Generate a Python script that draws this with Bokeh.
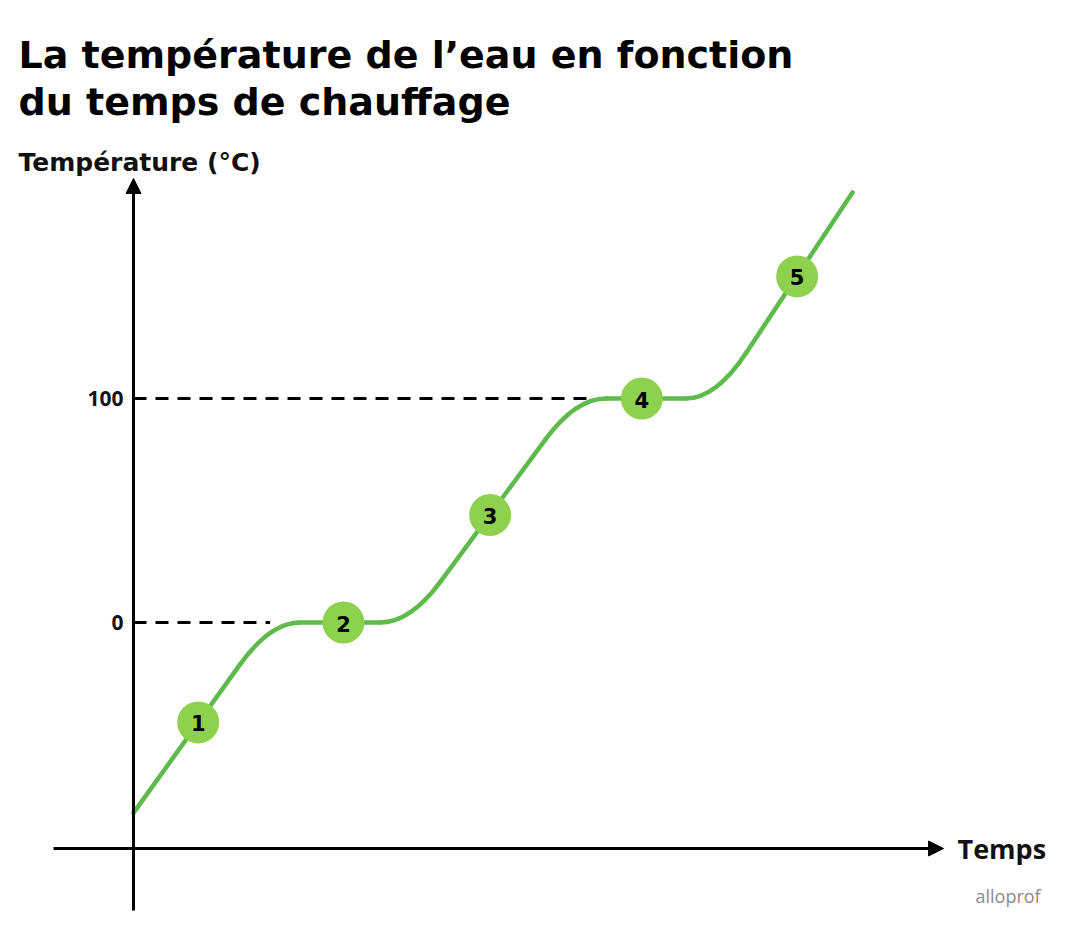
import numpy as np
from bokeh.plotting import figure
from bokeh.models import Range1d, Label, Arrow, NormalHead
from bokeh.core.properties import value
from bokeh.embed import file_html
from bokeh.resources import INLINE

# ---------------- data ----------------
title_lines = ["La température de l’eau en fonction", "du temps de chauffage"]
y_label = "Température (°C)"
x_label = "Temps"
credit = "alloprof"

# heating curve vertices: time (arbitrary units), temperature (°C)
curve_t = [0, 19, 38.5, 61.5, 81, 100]
curve_T = [-85, 0, 0, 100, 100, 192]

# numbered phases
phase_ids = ["1", "2", "3", "4", "5"]
phase_t = [9, 29.2, 49.6, 70.7, 92.3]
phase_T = [-44.6, 0, 48, 100, 154.5]

# reference temperatures
ref_ticks = [0, 100]
ref_labels = ["0", "100"]
ref_dash_end = [19, 63]

# ---------------- layout ----------------
W, H = 1066, 926
px_per_t, t0_px = 7.19, 133
px_per_T, T0_px = 2.24, 622
x0 = -t0_px / px_per_t
y1 = T0_px / px_per_T


def px2t(px):
    return (px - t0_px) / px_per_t


def py2T(py):
    return (T0_px - py) / px_per_T


GREEN_LINE = "#5EBB4B"
GREEN_FILL = "#8DD14F"
FONT = "Open Sans"

p = figure(width=W, height=H,
           x_range=Range1d(x0, x0 + W / px_per_t),
           y_range=Range1d(y1 - H / px_per_T, y1),
           x_axis_type=None, y_axis_type=None,
           min_border=0, toolbar_location=None, output_backend="svg")
p.outline_line_color = None
p.background_fill_color = "white"
p.border_fill_color = "white"

# axes (arrows)
x_axis_T = py2T(848)
p.add_layout(Arrow(end=NormalHead(size=15, fill_color="black", line_color="black", line_width=1),
                   x_start=0, y_start=py2T(910), x_end=0, y_end=py2T(178),
                   line_color="black", line_width=3))
p.add_layout(Arrow(end=NormalHead(size=15, fill_color="black", line_color="black", line_width=1),
                   x_start=px2t(53), y_start=x_axis_T, x_end=px2t(943), y_end=x_axis_T,
                   line_color="black", line_width=3))

# dashed reference lines
p.segment(x0=[0] * len(ref_ticks), y0=ref_ticks, x1=ref_dash_end, y1=ref_ticks,
          line_color="black", line_width=3, line_dash="13 9")

# tick labels
p.text(x=[0] * len(ref_ticks), y=ref_ticks, text=ref_labels, x_offset=-10,
       text_align="right", text_baseline="middle", text_font=value(FONT),
       text_font_size="21px", text_font_style="bold", text_color="#111111")

# heating curve with rounded corners
vt = np.array(curve_t, dtype=float)
vT = np.array(curve_T, dtype=float)
slopes = np.diff(vT) / np.diff(vt)
r = 4.2
ax_ = vt[1:-1] - r
ay_ = vT[1:-1] - slopes[:-1] * r
bx_ = vt[1:-1] + r
by_ = vT[1:-1] + slopes[1:] * r
seg_x0 = [vt[0]] + list(bx_)
seg_y0 = [vT[0]] + list(by_)
seg_x1 = list(ax_) + [vt[-1]]
seg_y1 = list(ay_) + [vT[-1]]
p.segment(x0=seg_x0, y0=seg_y0, x1=seg_x1, y1=seg_y1,
          line_color=GREEN_LINE, line_width=4.5, line_cap="round")
p.quadratic(x0=ax_, y0=ay_, x1=bx_, y1=by_, cx=vt[1:-1], cy=vT[1:-1],
            line_color=GREEN_LINE, line_width=4.5, line_cap="round")

# phase markers
p.scatter(x=phase_t, y=phase_T, size=42, fill_color=GREEN_FILL, line_color=None)
p.text(x=phase_t, y=phase_T, text=phase_ids, text_align="center", text_baseline="middle",
       text_font=value("DejaVu Sans"), text_font_size="21px", text_font_style="bold",
       text_color="black", y_offset=1)

# titles and labels
p.add_layout(Label(x=px2t(18), y=py2T(54), text=title_lines[0],
                   text_font="DejaVu Sans", text_font_size="38px", text_font_style="bold",
                   text_baseline="alphabetic", text_color="black"))
p.add_layout(Label(x=px2t(18), y=py2T(101), text=title_lines[1],
                   text_font="DejaVu Sans", text_font_size="38px", text_font_style="bold",
                   text_baseline="alphabetic", text_color="black"))
p.add_layout(Label(x=px2t(18), y=py2T(162), text=y_label,
                   text_font="DejaVu Sans", text_font_size="25px", text_font_style="bold",
                   text_baseline="alphabetic", text_color="#111111"))
p.add_layout(Label(x=px2t(957), y=x_axis_T, text=x_label,
                   text_font=FONT, text_font_size="27px", text_font_style="bold",
                   text_baseline="middle", text_align="left", text_color="#111111"))
p.add_layout(Label(x=px2t(975), y=py2T(895), text=credit,
                   text_font=FONT, text_font_size="18px", text_font_style="normal",
                   text_baseline="middle", text_color="#8a8a8a"))

open("out.html", "w").write(file_html(p, INLINE))
